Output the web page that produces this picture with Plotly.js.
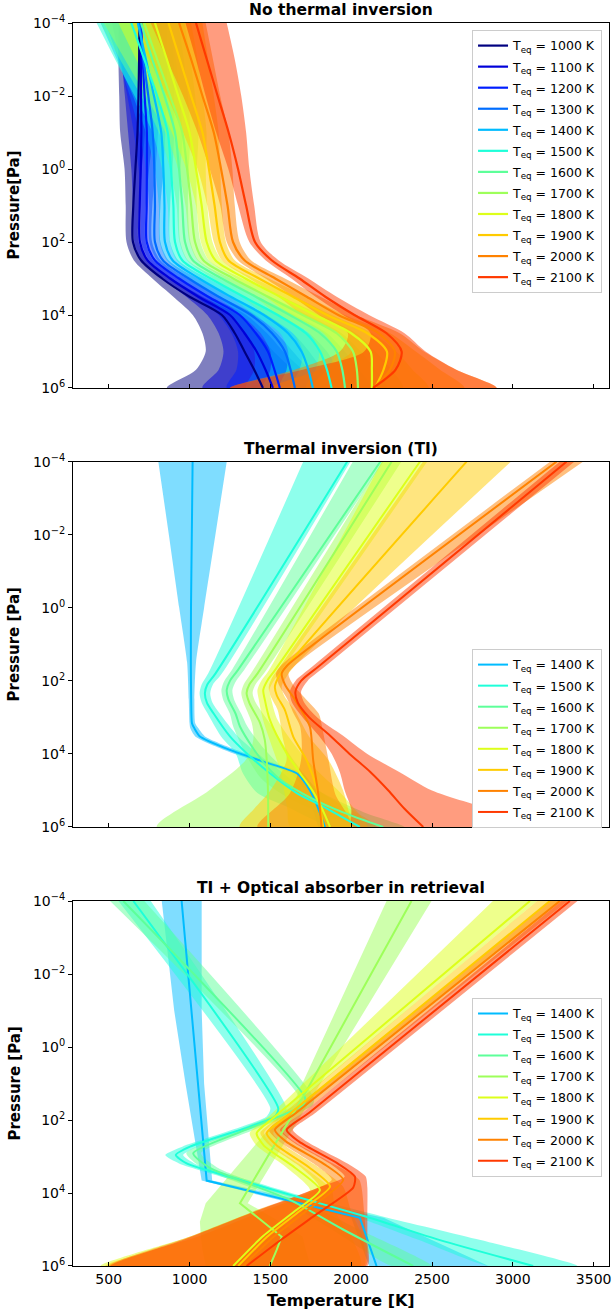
<!DOCTYPE html>
<html><head><meta charset="utf-8">
<script src="https://cdn.plot.ly/plotly-3.0.1.min.js"></script>
<style>html,body{margin:0;padding:0;background:#fff;}#chart{width:614px;height:1316px;}</style>
</head><body><div id="chart"></div>
<script>
// ---------- shared ----------
const teqAll = [1000,1100,1200,1300,1400,1500,1600,1700,1800,1900,2000,2100];
const jetColors = ['#000080','#0000d9','#001eff','#006dff','#00bcff','#1effd9','#5dff99','#9dff5a','#ddff1a','#ffcb00','#ff8200','#ff3900'];
const xTickVals = [500,1000,1500,2000,2500,3000,3500];
const yTickVals = [1e-4,1e-2,1,1e2,1e4,1e6];
const yTickText = ['10<sup>−4</sup>','10<sup>−2</sup>','10<sup>0</sup>','10<sup>2</sup>','10<sup>4</sup>','10<sup>6</sup>'];
const panelTitles = ['No thermal inversion','Thermal inversion (TI)','TI + Optical absorber in retrieval'];
const yTitles = ['Pressure[Pa]','Pressure [Pa]','Pressure [Pa]'];

// ---------- panel 1: no thermal inversion (log10 P levels, T in K) ----------
const p1LogP = [-4,-3,-2,-1,0,1,2,2.5,3,3.5,4,4.5,5,5.5,6];
const p1Teq = [1000,1100,1200,1300,1400,1500,1600,1700,1800,1900,2000,2100];
const p1Med = [
 [690,688,684,678,665,652,650,700,830,1000,1200,1280,1340,1400,1454],
 [700,700,700,702,698,692,693,740,880,1055,1250,1340,1415,1470,1516],
 [700,710,722,736,736,735,735,785,935,1115,1310,1410,1485,1525,1559],
 [690,715,745,772,782,786,786,835,995,1180,1380,1510,1590,1625,1652],
 [680,730,780,825,838,845,848,895,1060,1255,1460,1610,1693,1735,1763],
 [640,720,800,865,885,900,910,955,1130,1335,1545,1720,1807,1850,1879],
 [700,770,845,910,935,955,972,1020,1200,1410,1620,1807,1910,1945,1962],
 [720,800,880,955,985,1010,1034,1085,1270,1485,1700,1910,2011,2035,2042],
 [786,860,930,1000,1040,1075,1106,1160,1345,1560,1775,2000,2120,2128,2128],
 [870,940,1010,1080,1120,1155,1188,1240,1430,1640,1850,2100,2221,2200,2147],
 [935,1010,1080,1150,1195,1235,1269,1340,1530,1725,1920,2170,2270,2240,2140],
 [1040,1107,1174,1242,1300,1350,1405,1508,1680,1840,2020,2219,2312,2275,2135]
];
const p1Lo = [
 [560,560,565,571,598,605,610,655,770,900,1020,1080,1100,1040,860],
 [560,580,600,620,640,650,658,705,830,980,1110,1180,1210,1180,1080],
 [520,570,615,655,685,700,702,750,885,1040,1180,1260,1300,1290,1230],
 [480,560,630,690,730,750,752,800,940,1100,1240,1350,1400,1400,1350],
 [450,550,650,730,785,810,815,860,1005,1170,1320,1440,1500,1500,1460],
 [425,540,660,770,830,865,877,920,1075,1250,1400,1560,1610,1600,1560],
 [450,570,700,810,880,920,938,985,1145,1320,1470,1640,1700,1680,1630],
 [470,600,730,850,930,975,1000,1050,1215,1400,1550,1740,1800,1780,1720],
 [560,670,790,890,980,1040,1070,1120,1290,1470,1630,1830,1900,1850,1750],
 [640,750,860,960,1050,1110,1150,1200,1370,1550,1700,1920,2000,1800,1500],
 [760,860,960,1050,1125,1190,1230,1300,1470,1640,1800,1980,1930,1650,1250],
 [975,1040,1100,1165,1240,1300,1370,1470,1630,1780,1950,2120,2080,1700,1250]
];
const p1Hi = [
 [760,750,740,725,705,690,685,745,890,1080,1300,1420,1520,1640,1760],
 [800,790,780,775,750,730,728,775,930,1130,1350,1480,1580,1700,1820],
 [830,820,815,805,790,770,768,820,985,1190,1410,1540,1640,1740,1850],
 [860,860,860,850,840,820,820,870,1050,1260,1480,1640,1740,1820,1900],
 [880,900,905,905,895,880,880,930,1115,1340,1560,1740,1850,1920,2000],
 [880,915,940,955,945,935,943,990,1185,1420,1650,1850,1960,2050,2120],
 [930,965,990,1005,995,990,1006,1055,1255,1500,1730,1940,2060,2150,2220],
 [970,1005,1035,1055,1045,1045,1068,1120,1325,1570,1810,2030,2150,2250,2320],
 [1010,1050,1080,1105,1100,1110,1142,1200,1400,1650,1880,2130,2280,2380,2480],
 [1080,1115,1150,1180,1190,1200,1225,1280,1490,1730,1960,2240,2400,2550,2700],
 [1100,1145,1190,1240,1265,1280,1310,1380,1590,1810,2030,2300,2450,2650,2900],
 [1230,1280,1320,1350,1370,1400,1440,1550,1735,1910,2110,2330,2460,2650,2900]
];

// ---------- panel 2: thermal inversion ----------
const p2Teq = [1400,1500,1600,1700,1800,1900,2000,2100];
const p2LogP = [
 [-4,-2,0,1.5,2.5,3.16,3.3,3.52,3.89,4.21,4.53,4.85,5.17,5.62,6],
 [-4,1.8,2.1,2.34,2.6,2.88,3.52,3.98,4.53,5.07,5.44,6],
 [-4,1.7,2.0,2.25,2.5,2.9,3.25,3.85,4.3,4.7,5.2,5.6,6],
 [-4,1.8,2.1,2.33,2.6,3.15,3.6,4.15,5,6],
 [-4,1.7,2.0,2.25,2.5,3.07,3.98,4.5,5,5.5,6],
 [-4,1.6,1.9,2.16,2.4,2.8,3.53,4.17,5,5.5,6],
 [-4,1.3,1.6,1.8,2.1,2.5,2.9,3.26,4.17,5.08,6],
 [-4,1.6,2.0,2.3,2.6,3.0,3.5,4,4.5,5,5.5,6]
];
const p2Med = [
 [1019,1014,1009,1008,1010,1015,1030,1064,1250,1456,1663,1724,1765,1807,1838],
 [1975,1160,1110,1095,1108,1147,1250,1353,1497,1663,1827,2054],
 [2180,1300,1250,1230,1240,1285,1312,1394,1470,1560,1750,1950,2198],
 [2250,1420,1370,1353,1370,1436,1465,1477,1485,1487],
 [2425,1530,1480,1456,1465,1497,1600,1680,1760,1820,1869],
 [2714,1600,1550,1528,1540,1590,1642,1724,1790,1810,1827],
 [3270,1680,1600,1570,1590,1650,1704,1745,1765,1796,1817],
 [3332,1800,1690,1655,1670,1740,1870,1990,2120,2230,2330,2446]
];
const p2Lo = [
 [807,872,936,985,995,1000,1005,1035,1215,1420,1625,1690,1730,1770,1800],
 [1703,1115,1075,1062,1075,1110,1195,1285,1330,1420,1600,1880],
 [2010,1262,1215,1197,1207,1250,1270,1330,1385,1450,1610,1810,2060],
 [2190,1380,1335,1320,1335,1385,1395,1350,1120,797],
 [2190,1492,1443,1420,1428,1455,1525,1565,1585,1605,1625],
 [2444,1560,1512,1490,1500,1545,1575,1600,1500,1400,1310],
 [3230,1640,1562,1535,1552,1605,1645,1685,1690,1620,1420],
 [3290,1762,1655,1620,1635,1700,1800,1880,1930,1960,2000,2010]
];
const p2Hi = [
 [1230,1160,1090,1040,1030,1035,1055,1095,1290,1495,1700,1760,1800,1845,1880],
 [1995,1200,1145,1128,1142,1185,1300,1420,1580,1730,1900,2160],
 [2200,1338,1288,1265,1275,1320,1358,1460,1560,1680,1880,2080,2330],
 [2310,1460,1408,1390,1410,1495,1560,1640,1800,2150],
 [2470,1570,1520,1494,1505,1545,1690,1800,1920,2020,2100],
 [2988,1648,1598,1570,1585,1650,1740,1860,1950,1980,2000],
 [3434,1730,1648,1612,1640,1720,1800,1820,1860,1900,2000],
 [3380,1840,1730,1690,1710,1790,1950,2100,2300,2500,2850,3200]
];

// ---------- panel 3: TI + optical absorber ----------
const p3Teq = [1400,1500,1600,1700,1800,1900,2000,2100];
const p3LogP = [
 [-4,-1,1,3.66,4.68,6],
 [-4,1.68,1.91,2.18,2.73,2.96,3.19,3.64,4.05,4.65,5.29,6],
 [-4,1.4,1.6,2.3,2.91,3.3,4.19,5,6],
 [-4,1.36,4.28,4.79,5.2,5.56,6],
 [-4,1.9,2.36,2.7,3.3,3.92,4.5,5.2,6],
 [-4,1.9,2.36,2.7,3.3,3.82,4.5,5.2,6],
 [-4,1.8,2.27,2.6,3.2,3.64,4.5,5.2,6],
 [-4,1.8,2.27,2.6,3.2,3.55,3.85,4.6,5.3,6]
];
const p3Med = [
 [951,1012,1053,1106,2054,2157],
 [652,1549,1528,1374,1003,915,982,1312,1621,2095,2549,3126],
 [590,1715,1700,1330,1023,1120,1621,1950,2384],
 [2373,1703,1312,1456,1570,1539,1497],
 [3106,1530,1415,1460,1650,1807,1650,1450,1270],
 [3229,1600,1477,1540,1740,1869,1680,1480,1301],
 [3291,1660,1528,1600,1830,1951,1720,1520,1332],
 [3353,1740,1601,1680,1920,2023,2013,1780,1560,1353]
];
const p3Lo = [
 [828,905,975,1075,2000,2110],
 [560,1500,1475,1325,955,850,935,1265,1575,2030,2420,2850],
 [508,1680,1650,1285,980,1075,1570,1880,2250],
 [2219,1660,1100,1064,1070,1080,1100],
 [2877,1490,1372,1415,1600,1745,1400,1000,450],
 [3150,1560,1438,1495,1690,1800,1450,1050,480],
 [3230,1620,1490,1560,1770,1880,1400,1000,500],
 [3300,1700,1560,1640,1870,1960,1800,1350,950,510]
];
const p3Hi = [
 [1075,1075,1090,1140,2200,2850],
 [760,1600,1580,1425,1050,960,1030,1360,1670,2200,2800,3400],
 [720,1770,1760,1380,1070,1170,1680,2050,2500],
 [2497,1760,1360,1560,1700,1720,1750],
 [3150,1570,1460,1510,1710,1880,1900,2000,2060],
 [3300,1640,1518,1590,1800,1950,2000,2070,2080],
 [3340,1700,1570,1650,1890,2050,2080,2090,2090],
 [3400,1780,1640,1730,1980,2090,2100,2100,2100,2100]
];

// ---------- build ----------
function rgba(hex, a){
  const r=parseInt(hex.slice(1,3),16), g=parseInt(hex.slice(3,5),16), b=parseInt(hex.slice(5,7),16);
  return 'rgba('+r+','+g+','+b+','+a+')';
}
const FONT = 'DejaVu Sans, Liberation Sans, sans-serif';
const fills = [], lines = [];
function addPanel(k, teqs, logPs, meds, los, his, lineW, shapeFor){
  const xa = k===1 ? 'x' : 'x'+k, ya = k===1 ? 'y' : 'y'+k, lg = k===1 ? 'legend' : 'legend'+k;
  teqs.forEach((teq, i) => {
    const col = jetColors[teqAll.indexOf(teq)];
    const lp = Array.isArray(logPs[0]) ? logPs[i] : logPs;
    const P = lp.map(v => Math.pow(10, v));
    const sh = shapeFor(i);
    fills.push({
      type:'scatter', mode:'lines', xaxis:xa, yaxis:ya,
      x: los[i].concat(his[i].slice().reverse()),
      y: P.concat(P.slice().reverse()),
      fill:'toself', fillcolor: rgba(col, 0.5),
      line:{width:0, shape:sh.shape, smoothing:sh.smoothing},
      hoverinfo:'skip', showlegend:false
    });
    lines.push({
      type:'scatter', mode:'lines', xaxis:xa, yaxis:ya,
      x: meds[i], y: P,
      line:{color:col, width:lineW, shape:sh.shape, smoothing:sh.smoothing},
      name:'T<sub>eq</sub> = '+teq+' K', legend:lg, legendgroup:'g'+k+'_'+i
    });
  });
}
addPanel(1, p1Teq, p1LogP, p1Med, p1Lo, p1Hi, 2.2, i => ({shape:'spline', smoothing:0.8}));
addPanel(2, p2Teq, p2LogP, p2Med, p2Lo, p2Hi, 2.0, i => (i===0 ? {shape:'spline', smoothing:0.6} : {shape:'spline', smoothing:0.8}));
addPanel(3, p3Teq, p3LogP, p3Med, p3Lo, p3Hi, 2.0, i => ((i===0 || i===3) ? {shape:'linear', smoothing:0} : {shape:'spline', smoothing:0.6}));

const domains = [[0.70636,1],[0.35318,0.64706],[0,0.29364]];
const layout = {
  width:614, height:1316, paper_bgcolor:'#fff', plot_bgcolor:'#fff',
  margin:{l:73, r:5, t:23, b:50},
  font:{family:FONT, color:'#000'},
  showlegend:true, annotations:[]
};
for (let k=1;k<=3;k++){
  const sfx = k===1 ? '' : String(k);
  layout['xaxis'+sfx] = {
    domain:[0,1], anchor:'y'+sfx, range:[279,3595], autorange:false,
    tickvals:xTickVals, ticks:'inside', ticklen:4, tickwidth:1, tickcolor:'#000',
    showticklabels: k===3, tickfont:{size:14, family:FONT, color:'#000'},
    showline:true, linecolor:'#000', linewidth:1, mirror:true,
    showgrid:false, zeroline:false
  };
  layout['yaxis'+sfx] = {
    domain:domains[k-1], anchor:'x'+sfx, type:'log', range:[6,-4], autorange:false,
    tickvals:yTickVals, ticktext:yTickText, ticks:'outside', ticklen:4, tickwidth:1, tickcolor:'#000',
    tickfont:{size:14, family:FONT, color:'#000'},
    showline:true, linecolor:'#000', linewidth:1, mirror:true,
    showgrid:false, zeroline:false
  };
  layout.annotations.push({
    text:'<b>'+panelTitles[k-1]+'</b>', xref:'paper', yref:'paper', x:0.5, y:domains[k-1][1],
    xanchor:'center', yanchor:'bottom', yshift:2, showarrow:false, font:{size:15.5, family:FONT, color:'#000'}
  });
  layout.annotations.push({
    text:'<b>'+yTitles[k-1]+'</b>', xref:'paper', yref:'paper', x:-0.110, y:(domains[k-1][0]+domains[k-1][1])/2,
    xanchor:'center', yanchor:'middle', textangle:-90, showarrow:false, font:{size:15, family:FONT, color:'#000'}
  });
}
layout.annotations.push({
  text:'<b>Temperature [K]</b>', xref:'paper', yref:'paper', x:0.5, y:-0.0274,
  xanchor:'center', yanchor:'middle', showarrow:false, font:{size:16, family:FONT, color:'#000'}
});
const legBase = {bgcolor:'#ffffff', bordercolor:'#cccccc', borderwidth:1,
  font:{family:FONT, size:12.5, color:'#000'}, xanchor:'right', yanchor:'top', x:0.987,
  itemwidth:30, tracegroupgap:1.8, traceorder:'grouped'};
layout.legend = Object.assign({}, legBase, {y:0.9944});
layout.legend2 = Object.assign({}, legBase, {y:0.4964});
layout.legend3 = Object.assign({}, legBase, {y:0.2158});

Plotly.newPlot('chart', fills.concat(lines), layout, {staticPlot:true, displayModeBar:false});
</script>
</body></html>
